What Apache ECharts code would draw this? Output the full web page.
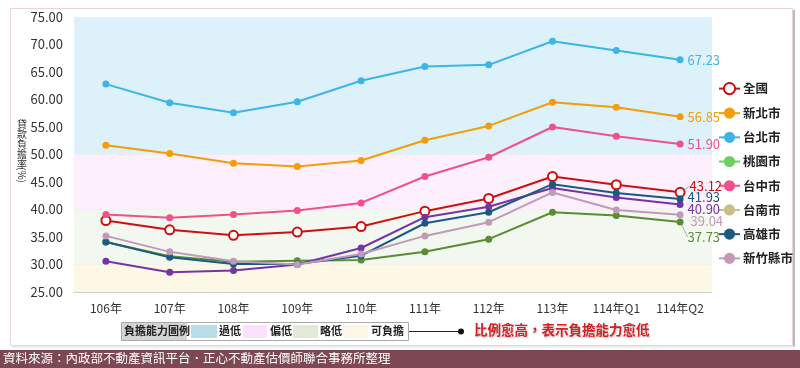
<!DOCTYPE html>
<html><head><meta charset="utf-8">
<script src="https://cdn.jsdelivr.net/npm/echarts@6/dist/echarts.min.js"></script>
<style>html,body{margin:0;padding:0;background:#fff}#c{width:800px;height:368px}</style>
</head><body><div id="c"></div>
<script>
var categories = ['106年','107年','108年','109年','110年','111年','112年','113年','114年Q1','114年Q2'];
var seriesNames = ['全國','新北市','台北市','桃園市','台中市','台南市','高雄市','新竹縣市'];
var quanguo   = [38.0, 36.3, 35.3, 35.9, 36.9, 39.7, 42.0, 46.0, 44.5, 43.12];
var xinbei    = [51.7, 50.2, 48.4, 47.8, 48.9, 52.6, 55.2, 59.5, 58.6, 56.85];
var taibei    = [62.8, 59.4, 57.6, 59.6, 63.4, 66.0, 66.3, 70.6, 68.9, 67.23];
var taoyuan   = [34.1, 31.5, 30.5, 30.7, 30.8, 32.3, 34.6, 39.5, 38.9, 37.73];
var taizhong  = [39.1, 38.5, 39.1, 39.8, 41.2, 46.0, 49.5, 55.0, 53.3, 51.90];
var tainan    = [30.6, 28.6, 28.9, 30.0, 33.0, 38.6, 40.5, 43.9, 42.2, 40.90];
var gaoxiong  = [34.1, 31.3, 30.1, 30.1, 31.6, 37.5, 39.5, 44.6, 43.0, 41.93];
var xinzhu    = [35.2, 32.3, 30.6, 30.0, 31.9, 35.2, 37.7, 43.1, 39.9, 39.04];
var yTicks = [25, 75, 5];
var yName = ['貸','款','負','擔','率'];
var bands = [[50,75,'#dcf1f9'],[40,50,'#fdf0fc'],[30,40,'#f2f8ef'],[25,30,'#fdf7e6']];
var bandLegend = ['過低','偏低','略低','可負擔'];

var allData = [quanguo, xinbei, taibei, taoyuan, taizhong, tainan, gaoxiong, xinzhu];
var lineColors = ['#cc1010','#f29d0a','#3db5e6','#5a8c34','#f0508c','#7434a4','#1b5a80','#c19ab7'];
var legendColors = ['#cc1010','#f29d0a','#3db5e6','#6cce64','#f0508c','#c8c08c','#1b5a80','#c19ab7'];
var labelShift = [[0,-6],[0,0],[0,0],[0,15],[0,0],[0,5],[0,-2],[3,6]];
var labelGuide = [true,false,false,true,false,false,false,false];

var FONT = '"Noto Sans CJK TC", "Noto Sans", sans-serif';
var series = [{
  name:'bands', type:'line', data:[], z:-1, silent:true,
  markArea:{silent:true, data: bands.map(function(b){return [{yAxis:b[0], itemStyle:{color:b[2]}},{yAxis:b[1]}];})}
}];
allData.forEach(function(vals, si){
  var last = vals.length-1;
  series.push({
    name: seriesNames[si], type:'line',
    symbol: si===0 ? 'emptyCircle' : 'circle',
    symbolSize: si===0 ? 9 : 7,
    lineStyle:{width:2, color: lineColors[si]},
    itemStyle:{color: lineColors[si], borderWidth: si===0?2:0},
    z: 10,
    labelLayout:{dx: labelShift[si][0], dy: labelShift[si][1]},
    labelLine:{show:labelGuide[si], lineStyle:{color:'#aaa', width:1}},
    data: vals.map(function(v,i){
      if(i!==last) return v;
      return {value:v, label:{show:true, position:'right', distance:4, color:lineColors[si], fontSize:13, fontFamily:FONT,
        formatter:function(p){return p.value.toFixed(2);}}};
    })
  });
});

var graphics = [
    {type:'rect', z:-10, shape:{x:10.5,y:8.5,width:782,height:337}, style:{fill:'#fff', stroke:'#ecd4d4', lineWidth:1}},
    {type:'rect', z:-11, shape:{x:793,y:10,width:2,height:337}, style:{fill:'#bbb'}},
    {type:'rect', z:-11, shape:{x:12,y:346,width:782,height:2}, style:{fill:'#eee'}},
    {type:'rect', shape:{x:0,y:350,width:800,height:18}, style:{fill:'#7b4853'}},
    {type:'text', x:3, y:352, style:{text:'資料來源：內政部不動產資訊平台．正心不動產估價師聯合事務所整理', fill:'#fff', fontSize:12.5, fontFamily:FONT}},
    {type:'text', x:27, y:167, rotation:-Math.PI/2, style:{text:'(%)', fill:'#333', fontSize:10, fontFamily:FONT}},
    {type:'rect', shape:{x:121.5,y:322.5,width:287,height:18}, style:{fill:'#fff', stroke:'#aaa', lineWidth:1}},
    {type:'rect', shape:{x:122,y:323,width:65,height:17}, style:{fill:'#d4d4d4'}},
    {type:'text', x:124, y:325, style:{text:'負擔能力圖例', fill:'#222', fontSize:11, fontWeight:'bold', fontFamily:FONT}},
    {type:'rect', shape:{x:191,y:325,width:26,height:13}, style:{fill:'#b9dde9'}},
    {type:'text', x:219, y:325, style:{text:bandLegend[0], fill:'#222', fontSize:11, fontWeight:'bold', fontFamily:FONT}},
    {type:'rect', shape:{x:243,y:325,width:24,height:13}, style:{fill:'#fde0fb'}},
    {type:'text', x:270, y:325, style:{text:bandLegend[1], fill:'#222', fontSize:11, fontWeight:'bold', fontFamily:FONT}},
    {type:'rect', shape:{x:293,y:325,width:25,height:13}, style:{fill:'#e2ebd5'}},
    {type:'text', x:320, y:325, style:{text:bandLegend[2], fill:'#222', fontSize:11, fontWeight:'bold', fontFamily:FONT}},
    {type:'rect', shape:{x:343,y:325,width:25,height:13}, style:{fill:'#fdf6e4'}},
    {type:'text', x:371, y:325, style:{text:bandLegend[3], fill:'#222', fontSize:11, fontWeight:'bold', fontFamily:FONT}},
    {type:'line', shape:{x1:409,y1:331.5,x2:460,y2:331.5}, style:{stroke:'#222', lineWidth:1}},
    {type:'circle', shape:{cx:461,cy:331.5,r:3}, style:{fill:'#111'}},
    {type:'text', x:474, y:323, style:{text:'比例愈高，表示負擔能力愈低', fill:'#d42222', fontSize:13.5, fontWeight:'bold', fontFamily:FONT, textShadowColor:'rgba(0,0,0,0.25)', textShadowBlur:2, textShadowOffsetX:1, textShadowOffsetY:1}}
];
yName.forEach(function(ch, i){
  graphics.push({type:'text', x:17, y:119 + i*10, style:{text:ch, fill:'#333', fontSize:10, fontFamily:FONT}});
});

var chart = echarts.init(document.getElementById('c'), null, {renderer:'canvas'});
chart.setOption({
  animation:false,
  textStyle:{fontFamily:FONT},
  grid:{left:74, right:88, top:17, bottom:76},
  xAxis:{type:'category', data:categories, boundaryGap:true,
    axisLine:{lineStyle:{color:'#d0d0d0'}}, axisTick:{show:false},
    axisLabel:{color:'#333', fontSize:12, margin:10, fontFamily:FONT}},
  yAxis:{type:'value', min:yTicks[0], max:yTicks[1], interval:yTicks[2],
    axisLine:{show:true, lineStyle:{color:'#d8d8d8'}}, axisTick:{show:false},
    splitLine:{lineStyle:{color:'#e2e2e2'}},
    axisLabel:{color:'#333', fontSize:13, margin:11, fontFamily:FONT, formatter:function(v){return v.toFixed(2);}}},
  legend:{orient:'vertical', left:713, top:77, itemGap:11.7, itemWidth:21, itemHeight:14,
    textStyle:{color:'#222', fontSize:12.5, fontWeight:'bold', fontFamily:FONT, padding:[0,0,0,-2]},
    data: seriesNames.map(function(n,i){
      return {name:n, itemStyle:{color:legendColors[i], borderColor:legendColors[i]}, lineStyle:{color:legendColors[i]}};
    })},
  graphic: graphics,
  series: series
});
</script></body></html>
